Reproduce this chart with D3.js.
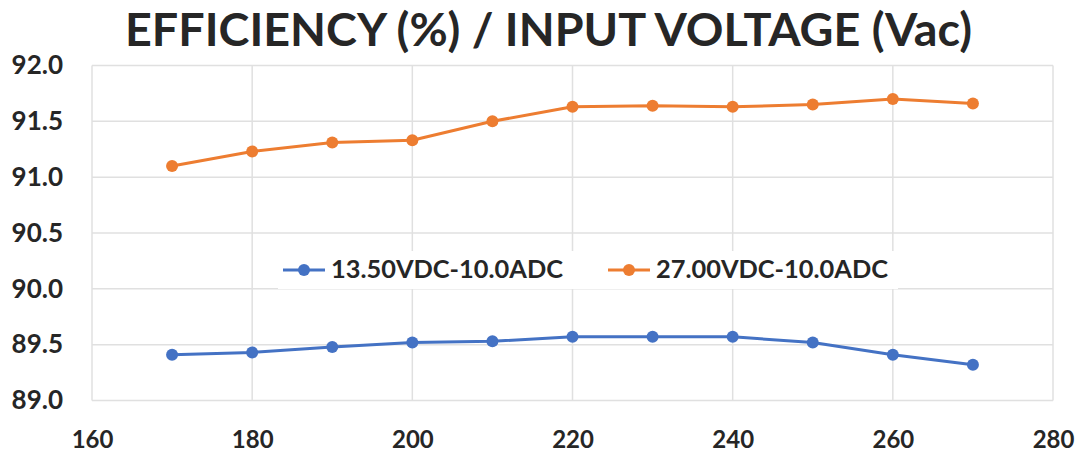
<!DOCTYPE html>
<html>
<head>
<meta charset="utf-8">
<script src="https://cdn.jsdelivr.net/npm/d3@7"></script>
<style>
  body { margin: 0; background: #fff; }
  text { font-family: Lato, "Open Sans", sans-serif; font-weight: 700; fill: #262626; }
</style>
</head>
<body>
<div id="chart"></div>
<script>
// data
const voltages = [170, 180, 190, 200, 210, 220, 230, 240, 250, 260, 270];
const eff13v5 = [89.41, 89.43, 89.48, 89.52, 89.53, 89.57, 89.57, 89.57, 89.52, 89.41, 89.32];
const eff27v = [91.10, 91.23, 91.31, 91.33, 91.50, 91.63, 91.64, 91.63, 91.65, 91.70, 91.66];
const seriesNames = ["13.50VDC-10.0ADC", "27.00VDC-10.0ADC"];
const xTicks = [160, 180, 200, 220, 240, 260, 280];
const yTicks = [89.0, 89.5, 90.0, 90.5, 91.0, 91.5, 92.0];
const titleText = "EFFICIENCY (%) / INPUT VOLTAGE (Vac)";

const width = 1081,
  height = 455,
  marginLeft = 92,
  marginRight = 28,
  marginTop = 65.5,
  marginBottom = 54.5;

const colors = ["#4472C4", "#ED7D31"];
const gridColor = "#e0e0e0";

const xScale = d3.scaleLinear([160, 280], [marginLeft, width - marginRight]);
const yScale = d3.scaleLinear([89, 92], [height - marginBottom, marginTop]);

const svg = d3
  .select("#chart")
  .append("svg")
  .attr("width", width)
  .attr("height", height)
  .attr("viewBox", [0, 0, width, height]);

// title
svg
  .append("text")
  .attr("x", 125)
  .attr("y", 46)
  .attr("font-size", 46)
  .attr("textLength", 847)
  .attr("lengthAdjust", "spacingAndGlyphs")
  .text(titleText);

// grid
svg
  .append("g")
  .selectAll("line")
  .data(yTicks)
  .join("line")
  .attr("x1", xScale(160))
  .attr("x2", xScale(280))
  .attr("y1", (d) => yScale(d))
  .attr("y2", (d) => yScale(d))
  .attr("stroke", gridColor)
  .attr("stroke-width", 1.5);

svg
  .append("g")
  .selectAll("line")
  .data(xTicks)
  .join("line")
  .attr("x1", (d) => xScale(d))
  .attr("x2", (d) => xScale(d))
  .attr("y1", yScale(92))
  .attr("y2", yScale(89))
  .attr("stroke", gridColor)
  .attr("stroke-width", 1.5);

// axes
const yAxis = d3.axisLeft(yScale).tickValues(yTicks).tickFormat(d3.format(".1f")).tickSize(0).tickPadding(29);
svg
  .append("g")
  .attr("transform", `translate(${marginLeft},0)`)
  .call(yAxis)
  .call((g) => g.select(".domain").remove())
  .call((g) => g.selectAll(".tick text").attr("font-size", 26).attr("fill", "#262626"));

const xAxis = d3.axisBottom(xScale).tickValues(xTicks).tickFormat(d3.format("d")).tickSize(0).tickPadding(30);
svg
  .append("g")
  .attr("transform", `translate(0,${height - marginBottom})`)
  .call(xAxis)
  .call((g) => g.select(".domain").remove())
  .call((g) => g.selectAll(".tick text").attr("font-size", 24).attr("fill", "#262626"));

// series
const allSeries = [eff13v5, eff27v];
const line = d3
  .line()
  .x((d, i) => xScale(voltages[i]))
  .y((d) => yScale(d));

allSeries.forEach((vals, s) => {
  const g = svg.append("g");
  g.append("path")
    .datum(vals)
    .attr("d", line)
    .attr("fill", "none")
    .attr("stroke", colors[s])
    .attr("stroke-width", 3)
    .attr("stroke-linejoin", "round");
  g.selectAll("circle")
    .data(vals)
    .join("circle")
    .attr("cx", (d, i) => xScale(voltages[i]))
    .attr("cy", (d) => yScale(d))
    .attr("r", 6)
    .attr("fill", colors[s]);
});

// legend
const legendY = 270;
const legend = svg.append("g");
legend
  .append("rect")
  .attr("x", 278)
  .attr("y", 251)
  .attr("width", 620)
  .attr("height", 38)
  .attr("fill", "#fff");

const legendX = [283, 608];
seriesNames.forEach((name, s) => {
  const lg = legend.append("g").attr("transform", `translate(${legendX[s]},${legendY})`);
  lg.append("line")
    .attr("x1", 0)
    .attr("x2", 42)
    .attr("stroke", colors[s])
    .attr("stroke-width", 3);
  lg.append("circle").attr("cx", 21).attr("r", 6).attr("fill", colors[s]);
  lg.append("text")
    .attr("x", 48)
    .attr("dy", "0.35em")
    .attr("font-size", 24)
    .attr("textLength", 232)
    .attr("lengthAdjust", "spacingAndGlyphs")
    .attr("fill", "#111")
    .text(name);
});
</script>
</body>
</html>
